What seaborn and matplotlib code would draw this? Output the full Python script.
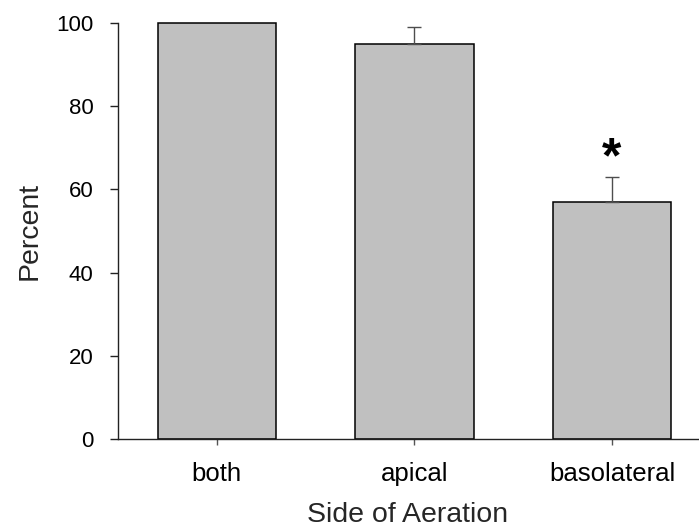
import matplotlib
matplotlib.use("Agg")
import matplotlib.pyplot as plt
import seaborn as sns
import pandas as pd

# Aeration side vs. percent response
categories = ["both", "apical", "basolateral"]
percent = [100, 95, 57]
sem_upper = [0, 4, 6]
significant = [False, False, True]

sns.set_theme(style="ticks")
plt.rcParams["font.family"] = ["Liberation Sans", "DejaVu Sans"]

df = pd.DataFrame({"side": categories, "percent": percent})

fig = plt.figure(figsize=(6.99, 5.32), dpi=100)
ax = fig.add_axes([0.1688, 0.1748, 0.8298, 0.782])

sns.barplot(data=df, x="side", y="percent", color="#c0c0c0", edgecolor="black",
            linewidth=1.1, width=0.6, errorbar=None, saturation=1, ax=ax)
for p in ax.patches:
    p.set_clip_on(False)

# upper-only error bars, skipped where there is no spread
xpos = list(ax.get_xticks())
ex = [x for x, e in zip(xpos, sem_upper) if e > 0]
ey = [v for v, e in zip(percent, sem_upper) if e > 0]
ee = [e for e in sem_upper if e > 0]
ax.errorbar(ex, ey, yerr=[[0] * len(ee), ee], fmt="none",
            ecolor="#4d4d4d", elinewidth=1.0, capsize=4.7, capthick=1.0, zorder=1)

for x, v, e, s in zip(xpos, percent, sem_upper, significant):
    if s:
        ax.text(x, v + e + 1.0, "*", ha="center", va="baseline",
                fontsize=36, fontweight="bold", color="black")

ax.set_ylim(0, 100)
ax.set_xlim(-0.5, 2.435)
ax.set_yticks([0, 20, 40, 60, 80, 100])

ax.set_xlabel("Side of Aeration", fontsize=20.5, labelpad=12)
ax.set_ylabel("Percent", fontsize=20.5, labelpad=10)

ax.tick_params(axis="y", direction="out", length=5.8, width=1, colors="#222222",
               labelsize=16, pad=12, labelcolor="black")
ax.tick_params(axis="x", direction="out", length=4.3, width=1, colors="#555555",
               labelsize=18.5, pad=12, labelcolor="black")

for side in ("top", "right"):
    ax.spines[side].set_visible(False)
for side in ("left", "bottom"):
    ax.spines[side].set_linewidth(1.0)
    ax.spines[side].set_color("#222222")

fig.savefig("out.png", dpi=100)
